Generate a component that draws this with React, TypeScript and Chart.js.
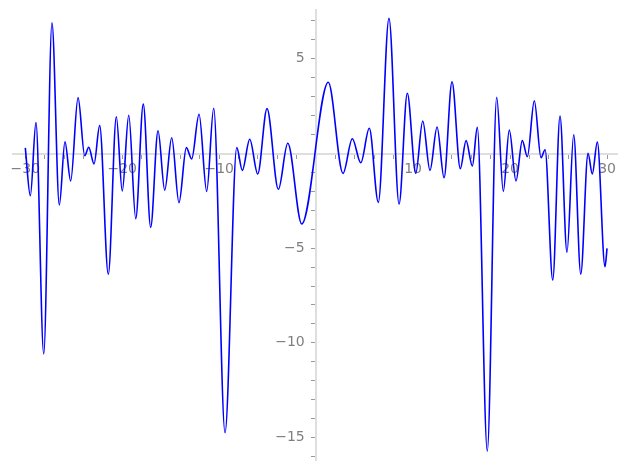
import React, { useEffect, useRef } from "react";
import { Chart, registerables } from "chart.js";

Chart.register(...registerables);

// Curve: local extrema (x, y)
const xs: number[] = [
  -30.0, -29.48, -28.9, -28.1, -27.25, -26.49, -25.91, -25.32, -24.56, -23.87,
  -23.46, -22.91, -22.33, -21.44, -20.61, -20.0, -19.33, -18.61, -17.83, -17.07,
  -16.31, -15.62, -14.9, -14.15, -13.39, -12.84, -12.08, -11.29, -10.57, -9.4,
  -8.19, -7.62, -6.85, -6.03, -5.07, -3.9, -2.93, -1.49, 1.25, 2.77,
  3.73, 4.6, 5.48, 6.41, 7.51, 8.55, 9.4, 10.27, 10.99, 11.74,
  12.47, 13.19, 14.01, 14.87, 15.46, 16.11, 16.62, 17.65, 18.62, 19.3,
  19.92, 20.61, 21.26, 21.78, 22.5, 23.19, 23.61, 24.4, 25.15, 25.87,
  26.56, 27.29, 28.04, 28.48, 29.0, 29.79, 30.0,
];
const ys: number[] = [
  0.3, -2.23, 1.63, -10.59, 6.91, -2.72, 0.62, -1.45, 2.95, -0.12,
  0.33, -0.55, 1.47, -6.38, 1.94, -1.98, 2.02, -3.44, 2.61, -3.9,
  1.2, -1.94, 0.83, -2.6, 0.31, -0.29, 2.07, -2.0, 2.39, -14.75,
  0.31, -0.89, 0.75, -1.08, 2.37, -1.89, 0.54, -3.72, 3.76, -1.05,
  0.78, -0.49, 1.33, -2.58, 7.14, -2.67, 3.18, -1.05, 1.72, -0.89,
  1.4, -1.28, 3.79, -0.8, 0.68, -0.66, 1.38, -15.72, 2.97, -2.0,
  1.24, -1.45, 0.68, -0.17, 2.79, -0.22, 0.2, -6.68, 1.98, -5.22,
  0.99, -6.37, 0.01, -1.08, 0.61, -5.98, -5.01,
];

const xLabelValues: number[] = [-30, -20, -10, 10, 20, 30];
const yLabelValues: number[] = [5, -5, -10, -15];

const fmt = (v: number) => (v < 0 ? "\u2212" + Math.abs(v) : String(v));

const noPadding = (scale: any) => {
  scale.paddingTop = 0;
  scale.paddingBottom = 0;
  scale.paddingLeft = 0;
  scale.paddingRight = 0;
};

export default function App() {
  const ref = useRef<HTMLCanvasElement | null>(null);
  useEffect(() => {
    document.body.style.margin = "0";
    document.body.style.overflow = "hidden";
    const canvas = ref.current;
    if (!canvas) return;
    const data = xs.map((x, i) => ({ x, y: ys[i] }));
    const tickFont = { family: "DejaVu Sans", size: 14 };
    const chart = new Chart(canvas, {
      type: "line",
      data: {
        datasets: [
          {
            data,
            borderColor: "#0000ff",
            borderWidth: 1.6,
            pointRadius: 0,
            cubicInterpolationMode: "monotone",
            fill: false,
          },
        ],
      },
      options: {
        animation: false,
        responsive: false,
        layout: { padding: { left: 12.7, right: 9.3, top: 10, bottom: 10 } },
        plugins: { legend: { display: false }, tooltip: { enabled: false } },
        scales: {
          x: {
            type: "linear",
            min: -31.3,
            max: 31.1,
            position: { y: 0 },
            afterFit: noPadding,
            grid: { drawOnChartArea: false, drawTicks: true, tickLength: 4, tickColor: "#9a9a9a", tickWidth: 1 },
            border: { display: true, color: "#dedede", width: 2 },
            ticks: {
              stepSize: 2,
              autoSkip: false,
              includeBounds: false,
              maxRotation: 0,
              padding: 3,
              color: "#7f7f7f",
              font: tickFont,
              callback: (v: any) => (xLabelValues.includes(Number(v)) ? fmt(Number(v)) : ""),
            },
          },
          y: {
            type: "linear",
            min: -16.19,
            max: 7.58,
            position: { x: 0 },
            afterFit: noPadding,
            grid: { drawOnChartArea: false, drawTicks: true, tickLength: 4, tickColor: "#9a9a9a", tickWidth: 1 },
            border: { display: true, color: "#dedede", width: 2 },
            ticks: {
              stepSize: 1,
              autoSkip: false,
              includeBounds: false,
              padding: 7,
              color: "#7f7f7f",
              font: tickFont,
              callback: (v: any) =>
                yLabelValues.includes(Number(v)) ? fmt(Number(v)) + "\u2002 " : "",
            },
          },
        },
      },
    } as any);
    return () => chart.destroy();
  }, []);
  return <canvas ref={ref} width={627} height={470} />;
}
